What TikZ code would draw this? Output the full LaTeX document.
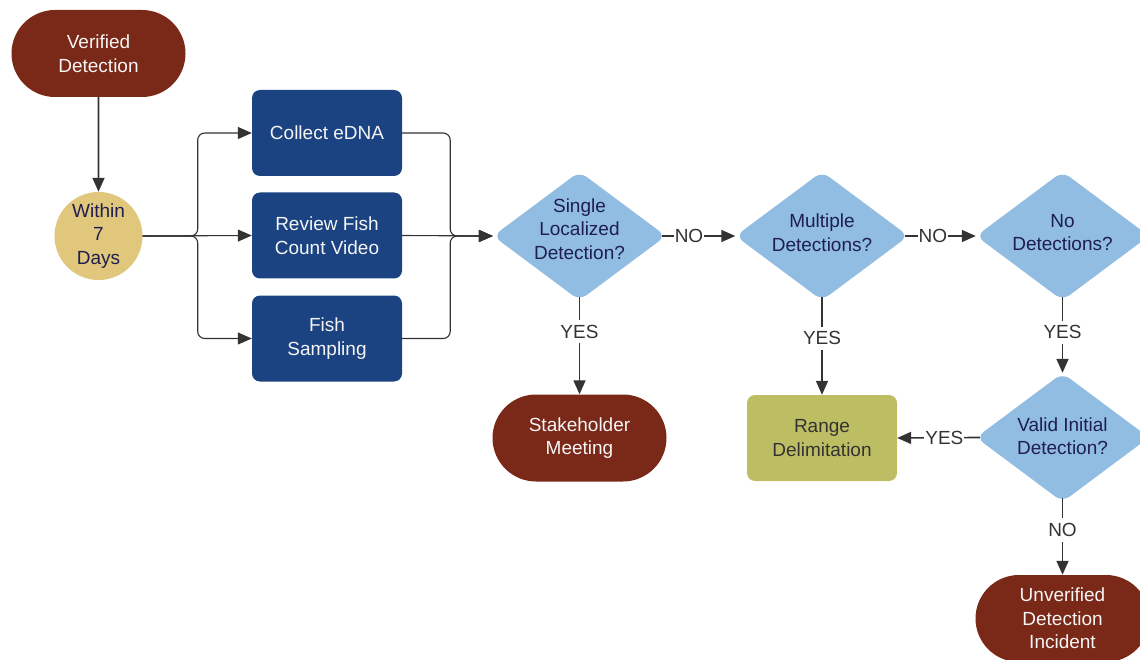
\documentclass[tikz,border=0pt]{standalone}
\usepackage{fontspec}
\setmainfont{Liberation Sans}
\usetikzlibrary{arrows.meta,shapes.geometric,shapes.misc}
\definecolor{termred}{HTML}{7A2818}
\definecolor{tasknavy}{HTML}{1B4381}
\definecolor{waitgold}{HTML}{E0C77B}
\definecolor{decblue}{HTML}{92BDE3}
\definecolor{rangeolive}{HTML}{BDBE63}
\definecolor{inkblue}{HTML}{1E1E50}
\definecolor{linegray}{HTML}{333333}
\begin{document}
\begin{tikzpicture}[x=1pt,y=-1pt,
  base/.style={font=\fontsize{19}{23.5}\selectfont, align=center, inner sep=0pt},
  term/.style={base, rounded rectangle, fill=termred, text=white!96!black,
    minimum width=174pt, minimum height=87pt},
  task/.style={base, rectangle, rounded corners=8pt, fill=tasknavy, text=white!96!black,
    minimum width=150pt, minimum height=86pt},
  waitnode/.style={base, circle, fill=waitgold, text=inkblue, minimum size=88pt},
  rangebox/.style={base, rectangle, rounded corners=8pt, fill=rangeolive, text=linegray,
    minimum width=150pt, minimum height=86pt},
  decision/.style={diamond, aspect=1, fill=decblue, rounded corners=9pt,
    minimum width=173pt, minimum height=129pt, inner sep=0pt},
  dectext/.style={base, text=inkblue},
  flow/.style={draw=linegray, line width=1.6pt, -{Triangle[length=14pt,width=12pt]}},
  fork/.style={draw=linegray, line width=1.1pt, rounded corners=7pt,
    -{Triangle[length=14pt,width=12pt]}},
  % the rounded tips of a decision sit a little inside its anchors
  fromdec/.style={shorten <=-4pt},
  lbl/.style={font=\fontsize{19}{23}\selectfont, text=linegray, fill=white,
    inner xsep=1pt, inner ysep=5pt}
]
\useasboundingbox (0,0) rectangle (1140,660);
\clip (0,0) rectangle (1140,660);

% terminals
\node[term] (v) at (98.5,53.5) {Verified\\Detection};
\node[term] (k) at (579.5,438) {Stakeholder\\Meeting};
\node[term] (u) at (1062.5,618.5) {Unverified\\Detection\\Incident};

% waiting step
\node[waitnode] (w) at (98.5,236) {Within\\7\\Days};

% parallel tasks
\node[task] (e) at (327,133) {Collect eDNA};
\node[task] (r) at (327,235.5) {Review Fish\\Count Video};
\node[task] (f) at (327,338.5) {Fish\\Sampling};

% decisions
\node[decision] (s) at (579.5,236) {};
\node[dectext] (st) at ([yshift=7pt]s.center) {Single\\Localized\\Detection?};
\node[decision] (m) at (822,236) {};
\node[dectext] (mt) at ([yshift=3.5pt]m.center) {Multiple\\Detections?};
\node[decision] (n) at (1062.5,236) {};
\node[dectext] (nt) at ([yshift=3.5pt]n.center) {No\\Detections?};
\node[decision] (q) at (1062.5,437.5) {};
\node[dectext] (qt) at ([yshift=1.5pt]q.center) {Valid Initial\\Detection?};

% range delimitation
\node[rangebox] (g) at (822,438) {Range\\Delimitation};

% connectors
\draw[flow] (v) -- (w);

\draw[fork] (w.east) -- ++(55,0) |- (e.west);
\draw[fork] (w.east) -- (r.west);
\draw[fork] (w.east) -- ++(55,0) |- (f.west);

\draw[fork] (e.east) -- ++(48,0) |- (s.west);
\draw[fork] (r.east) -- (s.west);
\draw[fork] (f.east) -- ++(48,0) |- (s.west);

\draw[flow, fromdec] (s.east) -- node[lbl, pos=0.33] {NO} (m.west);
\draw[flow, fromdec] (m.east) -- node[lbl, pos=0.36] {NO} (n.west);

\draw[flow, fromdec] (s.south) -- node[lbl, pos=0.33] {YES} (k.north);
\draw[flow, fromdec] (m.south) -- node[lbl, pos=0.40] {YES} (g.north);
\draw[flow, fromdec] (n.south) -- node[lbl, pos=0.44] {YES} (q.north);
\draw[flow, fromdec] (q.west) -- node[lbl, pos=0.40] {YES} (g.east);
\draw[flow, fromdec] (q.south) -- node[lbl, pos=0.38] {NO} (u.north);
\end{tikzpicture}
\end{document}
